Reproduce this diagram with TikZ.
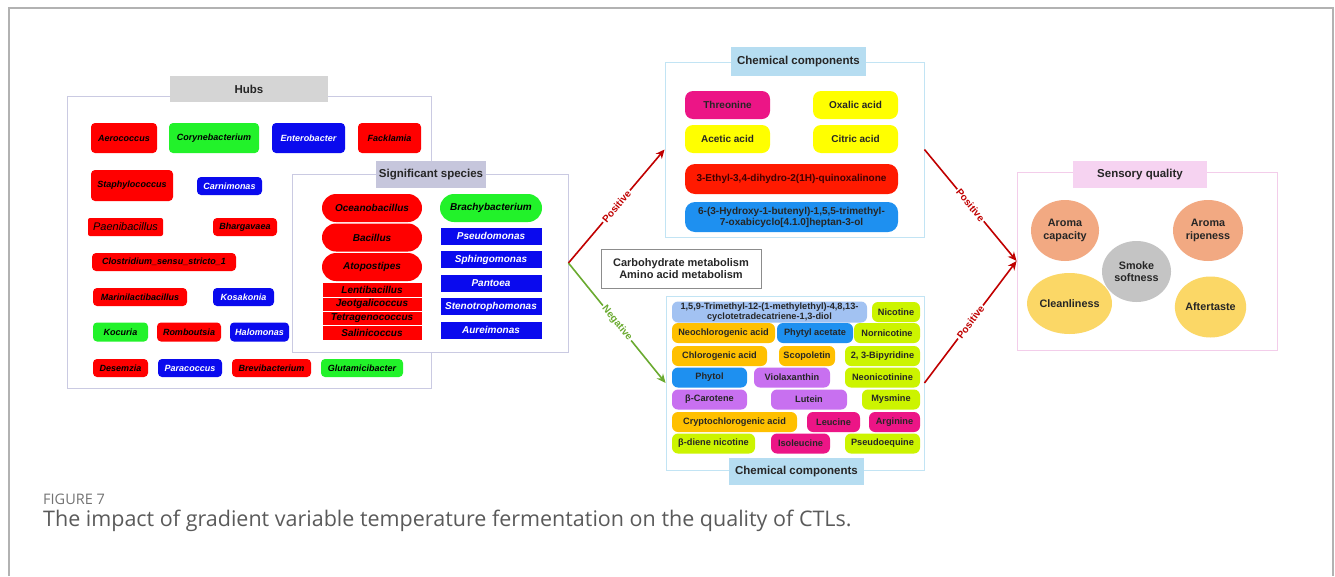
\documentclass[tikz,border=0pt]{standalone}
\usepackage{fontspec}
\setmainfont{Liberation Sans}
\newfontfamily\capfont{Open Sans}
\usetikzlibrary{positioning}
\usetikzlibrary{shapes.geometric,arrows.meta}

\definecolor{hubred}{HTML}{FF0000}
\definecolor{hubgreen}{HTML}{22F22A}
\definecolor{hubblue}{HTML}{0A0AEE}
\definecolor{hubframe}{HTML}{CACAE2}
\definecolor{hubtitle}{HTML}{D5D5D5}
\definecolor{sigtitle}{HTML}{C6C6DC}
\definecolor{chemframe}{HTML}{C2E4F4}
\definecolor{chemtitle}{HTML}{B6DDF1}
\definecolor{sensframe}{HTML}{F3CDEA}
\definecolor{senstitle}{HTML}{F6D3F1}
\definecolor{cmagenta}{HTML}{EC1586}
\definecolor{cyellow}{HTML}{FFFF00}
\definecolor{cred}{HTML}{FF1A00}
\definecolor{cblue}{HTML}{1E90F0}
\definecolor{clightblue}{HTML}{A2C2F2}
\definecolor{clime}{HTML}{CCF400}
\definecolor{corange}{HTML}{FFC000}
\definecolor{cpurple}{HTML}{C870F0}
\definecolor{salmon}{HTML}{F2A982}
\definecolor{smokegray}{HTML}{C4C4C4}
\definecolor{sunflower}{HTML}{FBD766}
\definecolor{arrowred}{HTML}{C00000}
\definecolor{arrowgreen}{HTML}{6AAA30}
\definecolor{capgray}{HTML}{5A5A5A}

\begin{document}
\begin{tikzpicture}[x=1pt,y=-1pt,
 panel/.style={draw=#1, line width=0.9pt, fill=white, inner sep=0},
 titlebox/.style={inner sep=0, font=\fontsize{11.5}{13}\selectfont\bfseries, text=black!85},
 hub/.style={rounded corners=4, inner sep=0, minimum height=18, font=\fontsize{9}{10}\selectfont\bfseries\itshape},
 hr/.style={hub, fill=hubred},
 hg/.style={hub, fill=hubgreen},
 hb/.style={hub, fill=hubblue, text=white},
 stadium/.style={rounded corners=14, inner sep=0, minimum width=100, minimum height=28, font=\fontsize{10}{11}\selectfont\bfseries\itshape},
 sigbar/.style={draw=white, line width=0.6pt, inner sep=0, minimum width=100, minimum height=14, fill=hubred, font=\fontsize{10}{11}\selectfont\bfseries\itshape},
 sigblue/.style={draw=white, inner sep=0, minimum width=102, minimum height=18, fill=hubblue, text=white, font=\fontsize{10}{11}\selectfont\bfseries\itshape},
 chem/.style={rounded corners=8, inner sep=0, minimum width=85, minimum height=28, align=center, font=\fontsize{10}{11}\selectfont\bfseries, text=black!85},
 comp/.style={rounded corners=6, inner sep=0, minimum height=20, align=center, font=\fontsize{9.2}{10}\selectfont\bfseries, text=black!85},
 sens/.style={ellipse, inner sep=0, minimum width=68, minimum height=61, align=center, font=\fontsize{10.8}{12.5}\selectfont\bfseries, text=black!85},
 link/.style={line width=1.6pt, -{Stealth[length=9pt,width=8pt]}},
 linklabel/.style={sloped, fill=white, inner sep=1.5pt, font=\fontsize{10}{11}\selectfont\bfseries}]

 \useasboundingbox (0,0) rectangle (1335,576);
 \draw[black!30, line width=1.5pt] (9,576) -- (9,8) -- (1333,8) -- (1333,576);

 \node[panel=hubframe, minimum width=364, minimum height=292] (hubs) at (249,242) {};
 \node[titlebox, fill=hubtitle, minimum width=158, minimum height=26] (hubstitle) at (249,89) {Hubs};

 \node[hr, minimum width=66, minimum height=30] (aerococcus) at (124,138) {Aerococcus};
 \node[hg, minimum width=90, minimum height=30] (corynebacterium) at (214,138) {Corynebacterium};
 \node[hb, minimum width=73, minimum height=30] (enterobacter) at (308.5,138) {Enterobacter};
 \node[hr, minimum width=63, minimum height=30] (facklamia) at (389.5,138) {Facklamia};
 \node[hr, minimum width=82, minimum height=31] (staphylococcus) at (132,185.5) {Staphylococcus};
 \node[hb, minimum width=65] (carnimonas) at (229.5,186) {Carnimonas};
 \node[hr, minimum width=75, rounded corners=2, font=\fontsize{11}{12}\selectfont\itshape] (paenibacillus) at (125.5,227) {Paenibacillus};
 \node[hr, minimum width=64] (bhargavaea) at (245,227) {Bhargavaea};
 \node[hr, minimum width=144] (clostridium) at (164,262) {Clostridium\_sensu\_stricto\_1};
 \node[hr, minimum width=94] (marinilactibacillus) at (140,297) {Marinilactibacillus};
 \node[hb, minimum width=61] (kosakonia) at (243.5,297) {Kosakonia};
 \node[hg, minimum width=55, minimum height=19] (kocuria) at (120.5,332) {Kocuria};
 \node[hr, minimum width=64, minimum height=19] (romboutsia) at (189,332) {Romboutsia};
 \node[hb, minimum width=59, minimum height=19] (halomonas) at (259.5,332) {Halomonas};
 \node[hr, minimum width=55] (desemzia) at (120.5,368) {Desemzia};
 \node[hb, minimum width=64] (paracoccus) at (190,368) {Paracoccus};
 \node[hr, minimum width=79] (brevibacterium) at (271.5,368) {Brevibacterium};
 \node[hg, minimum width=82] (glutamicibacter) at (362,368) {Glutamicibacter};

 \node[panel=hubframe, minimum width=276, minimum height=178] (sig) at (430,263) {};
 \node[titlebox, fill=sigtitle, minimum width=110, minimum height=27] (sigtitle) at (431,174.5) {Significant species};

 \node[stadium, fill=hubred] (oceanobacillus) at (372,208) {Oceanobacillus};
 \node[stadium, fill=hubred] (bacillus) at (372,237.5) {Bacillus};
 \node[stadium, fill=hubred] (atopostipes) at (372,267) {Atopostipes};
 \node[sigbar, minimum height=15] (lentibacillus) at (372,289.5) {Lentibacillus};
 \node[sigbar] (jeotgalicoccus) at (372,304) {Jeotgalicoccus};
 \node[sigbar] (tetragenococcus) at (372,318) {Tetragenococcus};
 \node[sigbar, minimum height=15] (salinicoccus) at (372,332.5) {Salinicoccus};
 \node[stadium, fill=hubgreen, minimum width=102] (brachybacterium) at (491,208) {Brachybacterium};
 \node[sigblue] (pseudomonas) at (491,236) {Pseudomonas};
 \node[sigblue] (sphingomonas) at (491,259.5) {Sphingomonas};
 \node[sigblue] (pantoea) at (491,283) {Pantoea};
 \node[sigblue] (stenotrophomonas) at (491,306.5) {Stenotrophomonas};
 \node[sigblue] (aureimonas) at (491,330) {Aureimonas};

 \node[panel=chemframe, minimum width=259, minimum height=175] (chemtop) at (794.5,149.5) {};
 \node[titlebox, fill=chemtitle, minimum width=135, minimum height=29] (chemtoptitle) at (798.5,61.5) {Chemical components};

 \node[chem, fill=cmagenta] (threonine) at (727.5,105) {Threonine};
 \node[chem, fill=cyellow] (oxalic) at (855.5,105) {Oxalic acid};
 \node[chem, fill=cyellow] (acetic) at (727.5,139) {Acetic acid};
 \node[chem, fill=cyellow] (citric) at (855.5,139) {Citric acid};
 \node[chem, fill=cred, minimum width=213, minimum height=30, rounded corners=10, text=black!75!red] (quinoxalinone) at (791.5,179) {3-Ethyl-3,4-dihydro-2(1H)-quinoxalinone};
 \node[chem, fill=cblue, minimum width=213, minimum height=30, rounded corners=10] (heptanol) at (791.5,217) {6-(3-Hydroxy-1-butenyl)-1,5,5-trimethyl-\\7-oxabicyclo[4.1.0]heptan-3-ol};

 \node[panel=black!45, minimum width=160, minimum height=39, align=center, font=\fontsize{11}{12.5}\selectfont\bfseries, text=black!85] (metabolism) at (681,268.5) {Carbohydrate metabolism\\Amino acid metabolism};

 \node[panel=chemframe, minimum width=258, minimum height=174] (chembot) at (795,383) {};
 \node[titlebox, fill=chemtitle, minimum width=135, minimum height=27] (chembottitle) at (796.5,471.5) {Chemical components};

 \node[comp, fill=clightblue, minimum width=195, minimum height=21] (diol) at (769.5,312) {1,5,9-Trimethyl-12-(1-methylethyl)-4,8,13-\\cyclotetradecatriene-1,3-diol};
 \node[comp, fill=clime, minimum width=48] (nicotine) at (896,312) {Nicotine};
 \node[comp, fill=corange, minimum width=103] (neochlorogenic) at (723.5,333) {Neochlorogenic acid};
 \node[comp, fill=cblue, minimum width=76] (phytylacetate) at (815,333) {Phytyl acetate};
 \node[comp, fill=clime, minimum width=66] (nornicotine) at (887,333) {Nornicotine};
 \node[comp, fill=corange, minimum width=95] (chlorogenic) at (719.5,356) {Chlorogenic acid};
 \node[comp, fill=corange, minimum width=56] (scopoletin) at (807,356) {Scopoletin};
 \node[comp, fill=clime, minimum width=75] (bipyridine) at (882.5,356) {2, 3-Bipyridine};
 \node[comp, fill=cblue, minimum width=75] (phytol) at (709.5,377.5) {Phytol};
 \node[comp, fill=cpurple, minimum width=76] (violaxanthin) at (792,377.5) {Violaxanthin};
 \node[comp, fill=clime, minimum width=75] (neonicotinine) at (882.5,377.5) {Neonicotinine};
 \node[comp, fill=cpurple, minimum width=75] (carotene) at (709.5,399.5) {β-Carotene};
 \node[comp, fill=cpurple, minimum width=76] (lutein) at (809,399.5) {Lutein};
 \node[comp, fill=clime, minimum width=58] (mysmine) at (891,399.5) {Mysmine};
 \node[comp, fill=corange, minimum width=125] (cryptochlorogenic) at (734.5,422) {Cryptochlorogenic acid};
 \node[comp, fill=cmagenta, minimum width=53] (leucine) at (833.5,422) {Leucine};
 \node[comp, fill=cmagenta, minimum width=51] (arginine) at (894.5,422) {Arginine};
 \node[comp, fill=clime, minimum width=83] (dienenicotine) at (713.5,443.5) {β-diene nicotine};
 \node[comp, fill=cmagenta, minimum width=59] (isoleucine) at (800.5,443.5) {Isoleucine};
 \node[comp, fill=clime, minimum width=75] (pseudoequine) at (882.5,443.5) {Pseudoequine};

 \node[panel=sensframe, minimum width=260, minimum height=178] (sensory) at (1147,261) {};
 \node[titlebox, fill=senstitle, minimum width=134, minimum height=27] (senstitle) at (1140,174.5) {Sensory quality};

 \node[sens, fill=salmon] (capacity) at (1065,230.5) {Aroma\\capacity};
 \node[sens, fill=salmon, minimum width=70] (ripeness) at (1208,230.5) {Aroma\\ripeness};
 \node[sens, fill=smokegray, minimum width=69] (softness) at (1136.5,271.5) {Smoke\\softness};
 \node[sens, fill=sunflower, minimum width=69] (cleanliness) at (1069.5,303.5) {Cleanliness};
 \node[sens, fill=sunflower, minimum width=69] (aftertaste) at (1210.5,307) {Aftertaste};

 \draw[link, arrowred] (sig.east) -- node[linklabel, text=arrowred] {Positive} (chemtop.west);
 \draw[link, arrowgreen] (sig.east) -- node[linklabel, text=arrowgreen] {Negative} (chembot.west);
 \draw[link, arrowred] (chemtop.east) -- node[linklabel, text=arrowred] {Positive} (sensory.west);
 \draw[link, arrowred] (chembot.east) -- node[linklabel, text=arrowred] {Positive} (sensory.west);

 \node[anchor=west, inner sep=0, font=\capfont\fontsize{14.5}{16}\selectfont, text=capgray!85] (figlabel) at (43,499) {FIGURE 7};
 \node[anchor=west, inner sep=0, font=\capfont\fontsize{21.5}{24}\selectfont, text=capgray] (caption) at (43,521) {The impact of gradient variable temperature fermentation on the quality of CTLs.};
\end{tikzpicture}
\end{document}
